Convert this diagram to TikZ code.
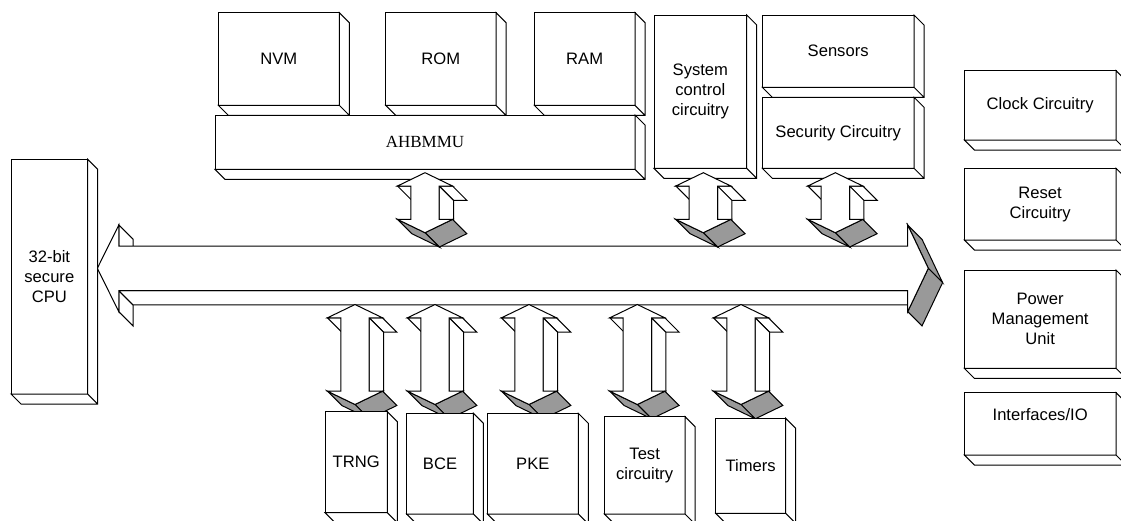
\documentclass[tikz,border=0pt]{standalone}
\usepackage{fontspec}
\setmainfont{Liberation Sans}
\newfontfamily\timesface{Liberation Serif}
\usepackage{tikz}
\usetikzlibrary{positioning,calc}
\definecolor{ink}   {HTML}{000000}
\definecolor{shade} {HTML}{999999}
\newcommand\blkfont{\fontsize{16.6}{20}\selectfont}
% right and bottom faces of a block, 10 deep
\newcommand\boxsides[1]{%
  \draw[face] (#1.north east) -- ++(10,10) |- ($(#1.south west)+(10,10)$)
    -- (#1.south west) -- (#1.south east) -- cycle
    (#1.south east) -- ++(10,10);}
\tikzset{
  % --- blocks
  blk/.style  = {draw=ink, fill=white, line width=1pt, inner sep=0pt, outer sep=0pt,
                 align=center, font=\blkfont, anchor=north west},
  face/.style = {draw=ink, fill=white, line width=1pt},
  dark/.style = {face, fill=shade},
  % --- fat double arrow, tip at the origin, #1 long
  pics/updown/.style = {code={
    \draw[face] (-27.5,13.3) -- (-14.2,13.3) -- (0.1,27.6) -- (-13.2,27.6) -- cycle;
    \draw[face] (14.2,13.3) -- (27.5,13.3) -- (41.8,27.6) -- (28.5,27.6) -- cycle;
    \draw[face] (14.2,13.3) -- (28.5,27.6) -- (28.5,#1+1) -- (14.2,#1-13.3) -- cycle;
    \draw[dark] (27.5,#1-13.3) -- (0,#1) -- (14.3,#1+14.3) -- (41.8,#1+1) -- cycle;
    \draw[dark] (-27.5,#1-13.3) -- (0,#1) -- (14.3,#1+14.3) -- (-13.2,#1+1) -- cycle;
    \draw[face] (0,0) -- (27.5,13.3) -- (14.2,13.3) -- (14.2,#1-13.3) -- (27.5,#1-13.3)
      -- (0,#1) -- (-27.5,#1-13.3) -- (-14.2,#1-13.3) -- (-14.2,13.3) -- (-27.5,13.3) -- cycle;
  }},
}

\begin{document}
\begin{tikzpicture}[x=1pt, y=-1pt]
  \useasboundingbox (0,0) rectangle (1121,520);
  \clip (0,0) rectangle (1121,520);

  % memories on the AHB
  \node[blk, minimum width=121pt,   minimum height=92.6pt] (nvm) at (218.3,12.7) {NVM};
  \node[blk, minimum width=110.3pt, minimum height=92.6pt] (rom) at (385.7,12.7) {ROM};
  \node[blk, minimum width=100.7pt, minimum height=92.6pt] (ram) at (534.3,12.7) {RAM};
  \boxsides{nvm} \boxsides{rom} \boxsides{ram}
  \node[blk, minimum width=420pt, minimum height=54.3pt,
        font=\timesface\fontsize{17}{20}\selectfont] (ahb) at (215,115) {AHBMMU};
  \boxsides{ahb}

  \node[blk, minimum width=92.7pt,  minimum height=153.3pt] (sysc) at (654,15) {System\\control\\circuitry};
  \boxsides{sysc}
  \node[blk, minimum width=151.7pt, minimum height=72.3pt] (sens) at (762.3,15) {Sensors};
  \boxsides{sens}
  \node[blk, minimum width=151.7pt, minimum height=71pt] (secc) at (762.3,97.3) {Security Circuitry};
  \boxsides{secc}

  % system bus
  \draw[face] (118.8,225) -- (133.1,239.3) -- (133.1,260.3) -- (118.8,246) -- cycle;
  \draw[face] (118.8,290.6) -- (133.1,304.9) -- (133.1,325.9) -- (118.8,311.6) -- cycle;
  \draw[face] (118.8,290.6) -- (907.7,290.6) -- (922,304.9) -- (133.1,304.9) -- cycle;
  \draw[dark] (907.7,225) -- (928.3,268.3) -- (942.6,282.6) -- (922,239.3) -- cycle;
  \draw[dark] (928.3,268.3) -- (907.7,311.6) -- (922,325.9) -- (942.6,282.6) -- cycle;
  \draw[face] (97.3,268.3) -- (118.8,225) -- (118.8,246) -- (907.7,246) -- (907.7,225)
    -- (928.3,268.3) -- (907.7,311.6) -- (907.7,290.6) -- (118.8,290.6) -- (118.8,311.6) -- cycle;

  % cpu and the support blocks
  \node[blk, minimum width=76.7pt, minimum height=234.7pt] (cpu) at (11,159.3) {32-bit\\secure\\CPU};
  \boxsides{cpu}
  \node[blk, minimum width=151.7pt, minimum height=69.3pt] (clk) at (964.3,70.7) {Clock Circuitry};
  \node[blk, minimum width=151.7pt, minimum height=71.7pt] (rst) at (964.3,168.3) {Reset\\Circuitry};
  \node[blk, minimum width=151.7pt, minimum height=98.3pt] (pmu) at (964.3,270) {Power\\Management\\Unit};
  \node[blk, minimum width=151.7pt, minimum height=62.3pt,
        label={[font=\blkfont, yshift=9.5pt]center:Interfaces/IO}] (io) at (964.3,392.7) {};
  \foreach \n in {clk,rst,pmu,io} {\boxsides{\n}}

  % bus taps
  \pic at (425,172.7)   {updown=60};
  \pic at (703.3,172.7) {updown=60};
  \pic at (835.3,172.7) {updown=60};
  \foreach \x in {355,435,529,637.3,741}
    \pic at (\x,304.5) {updown=100};

  % peripherals
  \node[blk, minimum width=62.3pt, minimum height=101pt]   (trng) at (325,411.7)   {TRNG};
  \node[blk, minimum width=66.7pt, minimum height=100.7pt] (bce)  at (406.7,413.3) {BCE};
  \node[blk, minimum width=91pt,   minimum height=100.7pt] (pke)  at (487.3,413.3) {PKE};
  \node[blk, minimum width=80.7pt, minimum height=97.3pt]  (test) at (604.3,416.7) {Test\\circuitry};
  \node[blk, minimum width=70pt,   minimum height=95pt]    (tmr)  at (715.7,418.3) {Timers};
  \foreach \n in {trng,bce,pke,test,tmr} {\boxsides{\n}}
\end{tikzpicture}
\end{document}
